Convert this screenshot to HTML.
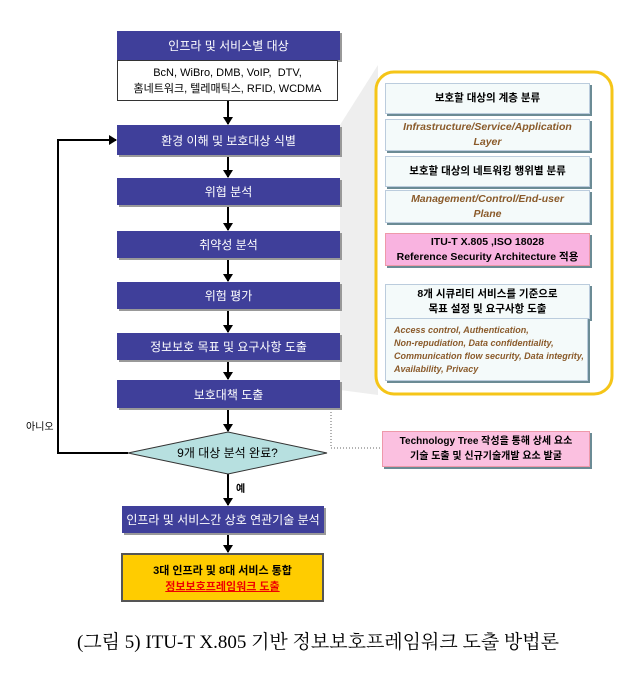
<!DOCTYPE html><html><head><meta charset="utf-8"><style>
body{margin:0;width:636px;height:677px;background:#fff;position:relative;font-family:"Liberation Sans","Noto Sans CJK KR",sans-serif;overflow:hidden}
.b{position:absolute;left:117px;width:223px;background:#3f3f9a;color:#fff;font-size:12px;display:flex;align-items:center;justify-content:center;box-shadow:2px 2px 0 #999}
.i{position:absolute;left:385px;width:203px;background:#f4fafa;border:1px solid #bcd;box-shadow:2px 2px 0 #6b8b95;display:flex;align-items:center;justify-content:center;text-align:center;font-size:10.5px;font-weight:bold;line-height:15px}
.it{color:#8a5a2a;font-style:italic;font-weight:bold}
</style></head><body>
<svg width="636" height="677" style="position:absolute;left:0;top:0">
<polygon points="340,125 378,65 378,395 340,390" fill="#eee"/>
<defs><marker id="m" markerUnits="userSpaceOnUse" markerWidth="8" markerHeight="10" refX="7" refY="5" orient="auto"><path d="M0,0L8,5L0,10z" fill="#000"/></marker></defs>
<g stroke="#000" stroke-width="2" fill="none">
<line x1="228" y1="101" x2="228" y2="124" marker-end="url(#m)"/>
<line x1="228" y1="155" x2="228" y2="177" marker-end="url(#m)"/>
<line x1="228" y1="205" x2="228" y2="230" marker-end="url(#m)"/>
<line x1="228" y1="258" x2="228" y2="281" marker-end="url(#m)"/>
<line x1="228" y1="309" x2="228" y2="332" marker-end="url(#m)"/>
<line x1="228" y1="360" x2="228" y2="379" marker-end="url(#m)"/>
<line x1="228" y1="408" x2="228" y2="431" marker-end="url(#m)"/>
<line x1="228" y1="474" x2="228" y2="505" marker-end="url(#m)"/>
<line x1="228" y1="533" x2="228" y2="552" marker-end="url(#m)"/>
<polyline points="128,453 58,453 58,140 116,140" marker-end="url(#m)"/>
</g>
<polyline points="331,409 331,448 382,448" fill="none" stroke="#666" stroke-dasharray="1,2"/>
<polygon points="128,453 228,432 327,453 228,474" fill="#b7e0e0" stroke="#333"/>
<rect x="376" y="72" width="236" height="322" rx="18" fill="#fff" stroke="#f5c518" stroke-width="3"/>
</svg>
<div class="b" style="top:31px;height:29px">인프라 및 서비스별 대상</div>
<div style="position:absolute;left:117px;top:60px;width:221px;border:1px solid #333;background:#fff;font-size:11px;text-align:center;line-height:16px;padding-top:4px;box-sizing:border-box;height:41px">BcN, WiBro, DMB, VoIP, &nbsp;DTV,<br>홈네트워크, 텔레매틱스, RFID, WCDMA</div>
<div class="b" style="top:125px;height:30px">환경 이해 및 보호대상 식별</div>
<div class="b" style="top:178px;height:27px">위협 분석</div>
<div class="b" style="top:231px;height:27px">취약성 분석</div>
<div class="b" style="top:282px;height:27px">위험 평가</div>
<div class="b" style="top:333px;height:27px">정보보호 목표 및 요구사항 도출</div>
<div class="b" style="top:380px;height:28px">보호대책 도출</div>
<div style="position:absolute;left:128px;top:444px;width:199px;text-align:center;font-size:12px">9개 대상 분석 완료?</div>
<div style="position:absolute;left:26px;top:418px;font-size:10px">아니오</div>
<div style="position:absolute;left:236px;top:480px;font-size:10px;font-weight:bold">예</div>
<div class="b" style="left:122px;width:202px;top:506px;height:27px">인프라 및 서비스간 상호 연관기술 분석</div>
<div style="position:absolute;left:121px;top:553px;width:203px;height:49px;background:#fc0;border:2px solid #555;box-sizing:border-box;text-align:center;font-size:11px;font-weight:bold;line-height:16px;padding-top:8px">3대 인프라 및 8대 서비스 통합<br><span style="color:#e00;text-decoration:underline">정보보호프레임워크 도출</span></div>
<div class="i" style="top:83px;height:29px">보호할 대상의 계층 분류</div>
<div class="i it" style="top:119px;height:30px">Infrastructure/Service/Application<br>Layer</div>
<div class="i" style="top:156px;height:29px">보호할 대상의 네트워킹 행위별 분류</div>
<div class="i it" style="top:190px;height:31px">Management/Control/End-user<br>Plane</div>
<div class="i" style="top:233px;height:31px;background:#f9b3e0;border-color:#e9a">ITU-T X.805 ,ISO 18028<br>Reference Security Architecture 적용</div>
<div class="i" style="top:284px;height:33px">8개 시큐리티 서비스를 기준으로<br>목표 설정 및 요구사항 도출</div>
<div class="i it" style="top:318px;height:63px;justify-content:flex-start;text-align:left;padding-left:8px;box-sizing:border-box;font-size:9px;line-height:13px">Access control, Authentication,<br>Non-repudiation, Data confidentiality,<br>Communication flow security, Data integrity,<br>Availability, Privacy</div>
<div class="i" style="left:382px;width:206px;top:431px;height:34px;background:#fbc0e0;border-color:#e9a;font-size:10px">Technology Tree 작성을 통해 상세 요소<br>기술 도출 및 신규기술개발 요소 발굴</div>
<div style="position:absolute;left:0;width:636px;top:627px;text-align:center;font-family:'Liberation Serif','Noto Serif CJK SC',serif;font-size:19px">(그림 5) ITU-T X.805 기반 정보보호프레임워크 도출 방법론</div>
</body></html>
